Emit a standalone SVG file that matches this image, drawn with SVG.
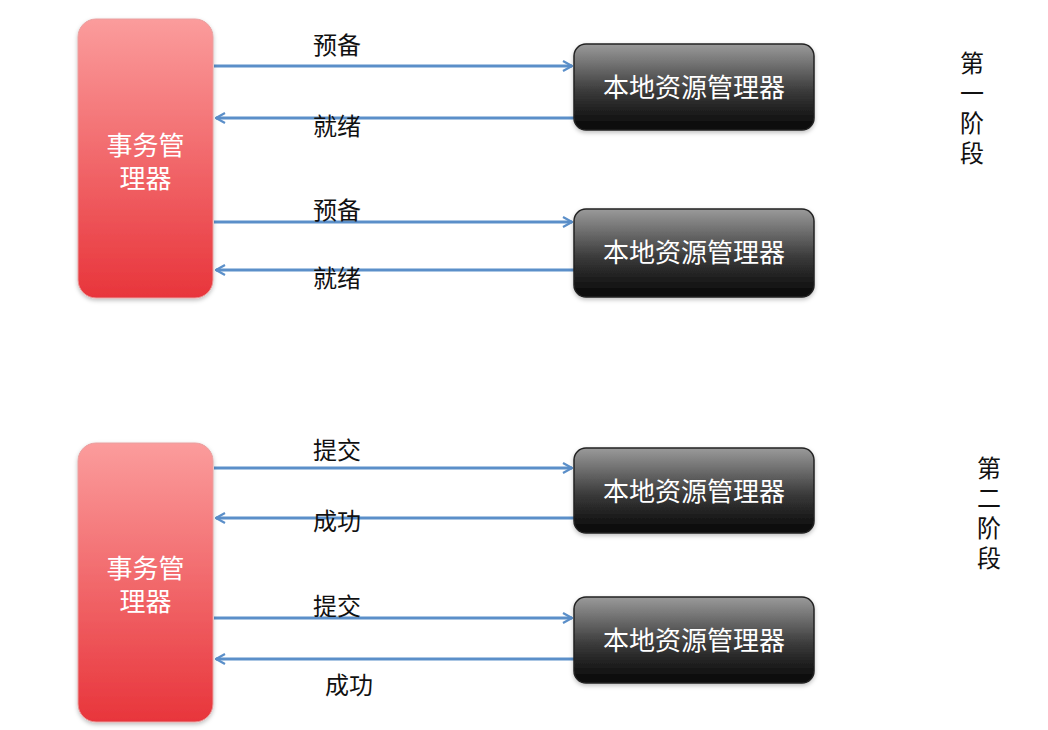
<svg xmlns="http://www.w3.org/2000/svg" width="1048" height="730" viewBox="0 0 1048 730">
<style>
.lbl{font-family:"Noto Sans CJK SC","Noto Sans",sans-serif;font-size:24px;fill:#111;text-anchor:middle}
.stage{font-family:"Noto Sans CJK SC","Noto Sans",sans-serif;font-size:24px;fill:#111;text-anchor:start;writing-mode:vertical-rl;letter-spacing:6px}
.wt{font-family:"Noto Sans CJK SC","Noto Sans",sans-serif;font-size:26px;fill:#fff;text-anchor:middle}
.wt2{font-family:"Liberation Sans","Noto Sans CJK SC",sans-serif;font-size:26px;fill:#fff;text-anchor:middle}
.red{fill:url(#gRed);stroke:#e8a0a0;stroke-width:1;filter:url(#sh)}
.blk{fill:url(#gBlk);stroke:#222;stroke-width:1.5;filter:url(#sh)}
.arr{stroke:#5b8fc9;stroke-width:3;fill:none;marker-end:url(#ah)}
</style>
<defs>
<linearGradient id="gRed" x1="0" y1="0" x2="0" y2="1">
<stop offset="0" stop-color="#fb9c9c"/>
<stop offset="1" stop-color="#e8353b"/>
</linearGradient>
<linearGradient id="gBlk" x1="0" y1="0" x2="0" y2="1">
<stop offset="0" stop-color="#9a9a9a"/>
<stop offset="0.55" stop-color="#3a3a3a"/>
<stop offset="1" stop-color="#050505"/>
</linearGradient>
<filter id="sh" x="-10%" y="-10%" width="120%" height="125%">
<feDropShadow dx="0" dy="2" stdDeviation="2" flood-color="#000" flood-opacity="0.25"/>
</filter>
<marker id="ah" viewBox="0 0 12 12" refX="11" refY="6" markerWidth="12" markerHeight="12" markerUnits="userSpaceOnUse" orient="auto">
<path d="M2,1 L11,6 L2,11" fill="none" stroke="#5b8fc9" stroke-width="2.2"/>
</marker>
</defs>
<rect width="1048" height="730" fill="#fff"/>

<g id="connectors">
<line class="arr" x1="214" y1="66" x2="572" y2="66"/>
<line class="arr" x1="574" y1="118" x2="216" y2="118"/>
<line class="arr" x1="214" y1="222" x2="572" y2="222"/>
<line class="arr" x1="574" y1="270" x2="216" y2="270"/>
<line class="arr" x1="214" y1="468" x2="572" y2="468"/>
<line class="arr" x1="574" y1="518" x2="216" y2="518"/>
<line class="arr" x1="214" y1="618" x2="572" y2="618"/>
<line class="arr" x1="574" y1="659" x2="216" y2="659"/>
</g>

<g id="labels">
<text class="lbl" x="337" y="54">预备</text>
<text class="lbl" x="337" y="135">就绪</text>
<text class="lbl" x="337" y="219">预备</text>
<text class="lbl" x="337" y="287">就绪</text>
<text class="lbl" x="337" y="459">提交</text>
<text class="lbl" x="337" y="530">成功</text>
<text class="lbl" x="337" y="615">提交</text>
<text class="lbl" x="349" y="694">成功</text>
</g>

<g id="tm1">
<rect class="red" x="78" y="19" width="135" height="279" rx="18"/>
<text class="wt2" x="145.5" y="155">事务管</text>
<text class="wt2" x="145.5" y="188">理器</text>
</g>
<g id="tm2">
<rect class="red" x="78" y="443" width="135" height="279" rx="18"/>
<text class="wt2" x="145.5" y="578">事务管</text>
<text class="wt2" x="145.5" y="611">理器</text>
</g>

<g id="rm1">
<rect class="blk" x="574" y="44" width="240" height="86" rx="12"/>
<text class="wt" x="694" y="97">本地资源管理器</text>
</g>
<g id="rm2">
<rect class="blk" x="574" y="209" width="240" height="88" rx="12"/>
<text class="wt" x="694" y="262">本地资源管理器</text>
</g>
<g id="rm3">
<rect class="blk" x="574" y="448" width="240" height="85" rx="12"/>
<text class="wt" x="694" y="501">本地资源管理器</text>
</g>
<g id="rm4">
<rect class="blk" x="574" y="597" width="240" height="86" rx="12"/>
<text class="wt" x="694" y="650">本地资源管理器</text>
</g>

<g id="stage1">
<text class="stage" x="972" y="51">第一阶段</text>
</g>
<g id="stage2">
<text class="stage" x="989" y="456">第二阶段</text>
</g>
</svg>
